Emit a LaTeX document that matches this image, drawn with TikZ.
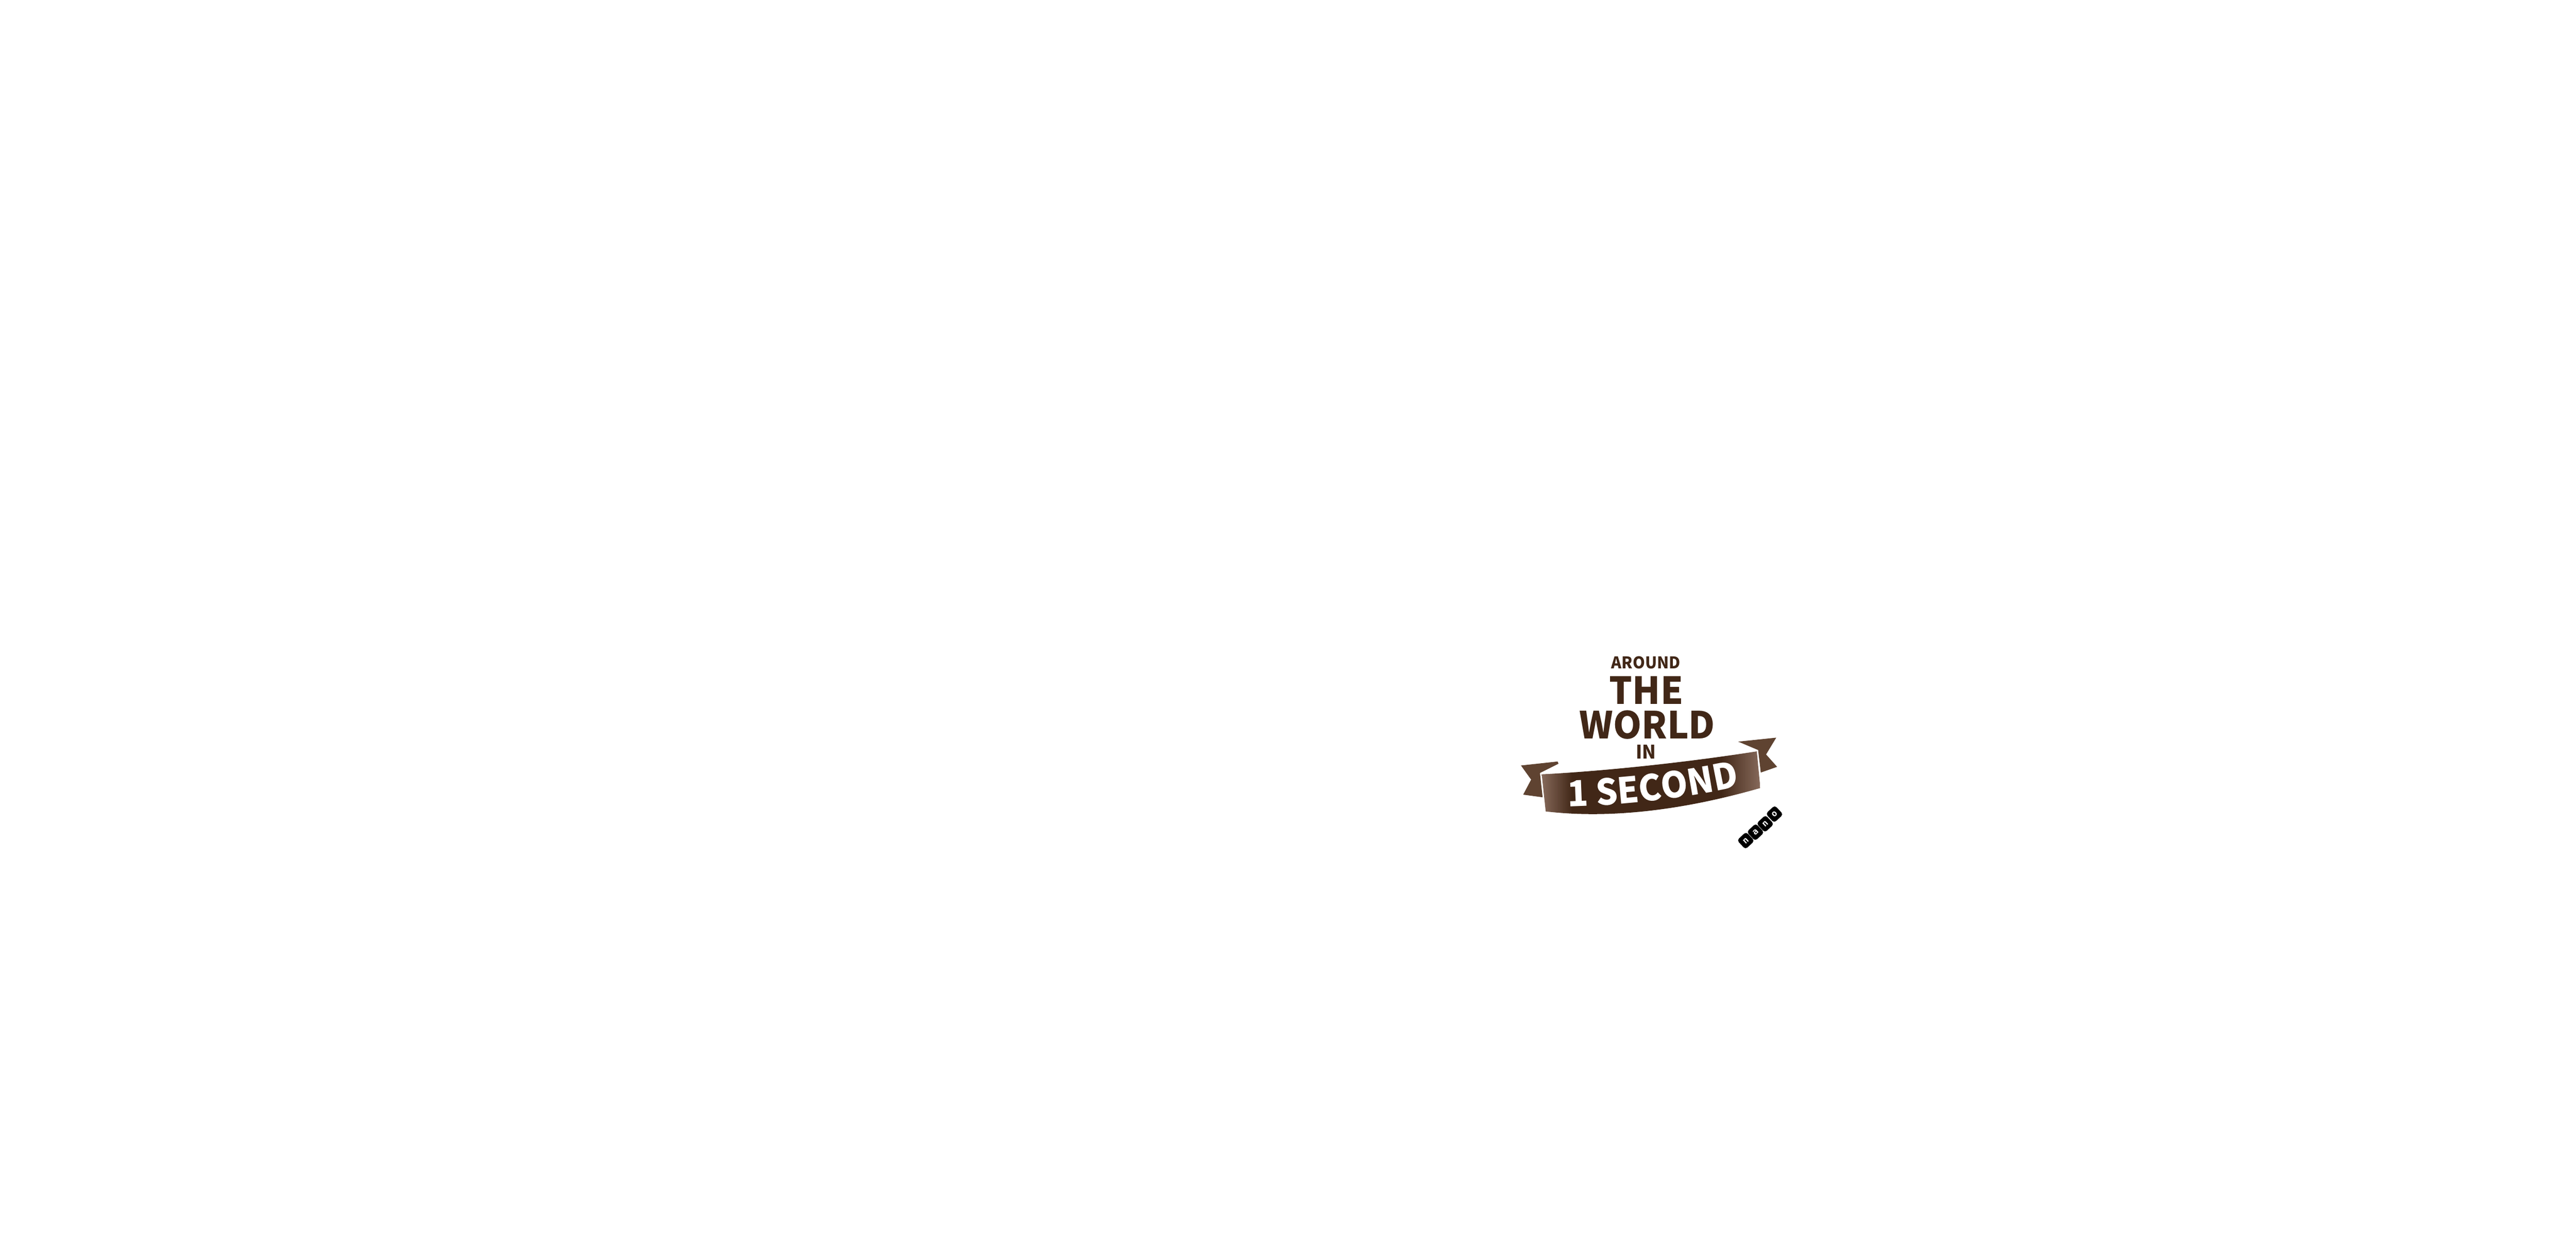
\documentclass[tikz,border=0pt]{standalone}
\usepackage{fontspec}
\usetikzlibrary{decorations.text}
\newfontfamily\capfont{Noto Sans CJK SC}
\newfontfamily\tilefont{DejaVu Sans Mono}
\definecolor{capbrown}{HTML}{412717}
\definecolor{tailbrown}{HTML}{5F4331}
\definecolor{edgebrown}{HTML}{86695A}
\pgfdeclarehorizontalshading{bannershade}{100bp}{
    color(0bp)=(edgebrown); color(25bp)=(edgebrown); color(32bp)=(capbrown);
    color(66bp)=(capbrown); color(75bp)=(edgebrown); color(100bp)=(edgebrown)}
\tikzset{
    capline/.style={inner sep=0pt, text=capbrown,
        font=\capfont\bfseries\fontsize{#1}{#1}\selectfont\addfontfeature{FakeStretch=0.97}},
    nanotile/.style={fill=black, rounded corners=0.06cm, minimum size=0.28cm, inner sep=0pt, rotate=43,
        text=white, font=\tilefont\bfseries\fontsize{5.5}{5.5}\selectfont}
}
\begin{document}
\begin{tikzpicture}
    \useasboundingbox (0,0) rectangle (58.33,28.18);

    % Title lines
    \node[capline=10.4] (around) at (37.27, 13.18) {AROUND};
    \node[capline=24] (the) at (37.28, 12.55) {THE};
    \node[capline=24] (world) at (37.30, 11.77) {WORLD};
    \node[capline=12] (in) at (37.27, 11.16) {IN};

    % Ribbon tails
    \fill[tailbrown] (34.44,10.85) -- (35.27,10.94) -- (35.29,10.89) -- (34.87,10.68) -- (34.93,10.13)
        -- (34.49,10.19) -- (34.67,10.53) -- cycle;
    \fill[tailbrown] (39.36,11.39) -- (40.22,11.48) -- (39.99,11.10) -- (40.24,10.82) -- (39.87,10.69)
        -- (39.81,11.20) -- cycle;

    % Ribbon
    \shade[shading=bannershade] (34.91,10.65) .. controls (36.3,10.72) and (38.2,10.92) .. (39.78,11.17)
        -- (39.86,10.34) .. controls (38.6,9.98) and (36.8,9.60) .. (35.00,9.81) -- cycle;
    \path[decorate, decoration={text along path, text align=center,
        text={|\capfont\bfseries\fontsize{23}{23}\selectfont\addfontfeature{FakeStretch=0.96}\color{white}|1 SECOND}}]
        (35.3,9.91) .. controls (36.8,9.94) and (38.2,10.11) .. (39.6,10.42);

    % Nano tiles
    \foreach \x/\y/\c/\n in {39.53/9.15/n/a, 39.75/9.34/a/b, 39.97/9.53/n/c, 40.18/9.75/o/d} {
        \node[nanotile] (nano\n) at (\x,\y) {\c};
    }
\end{tikzpicture}
\end{document}
